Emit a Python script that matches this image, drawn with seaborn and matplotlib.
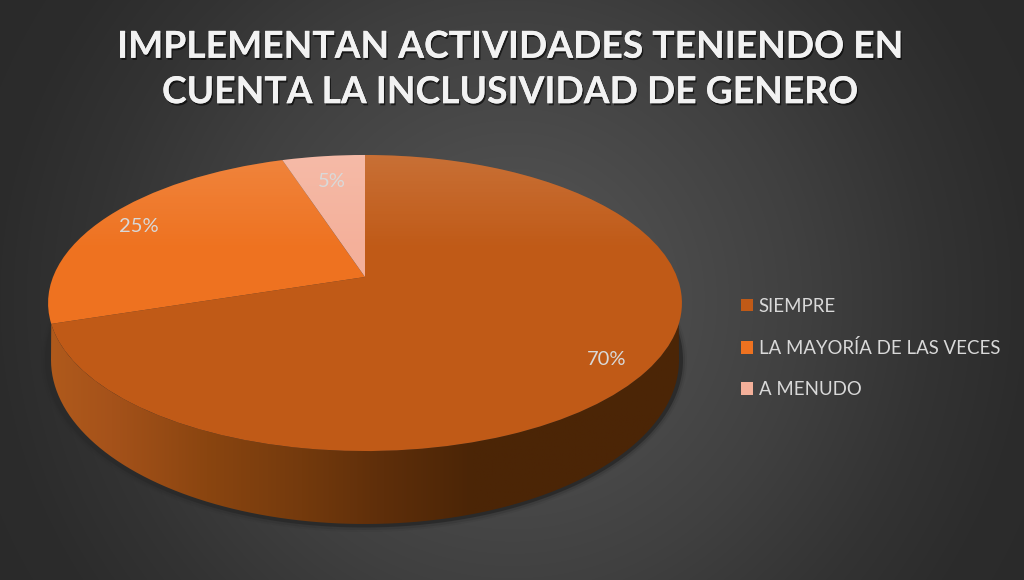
import matplotlib
matplotlib.use('Agg')
import matplotlib.pyplot as plt
import matplotlib.patheffects as pe
import numpy as np
import seaborn as sns
from matplotlib.colors import LinearSegmentedColormap
from matplotlib.path import Path
from matplotlib.transforms import Affine2D, Transform

title = 'IMPLEMENTAN ACTIVIDADES TENIENDO EN\nCUENTA LA INCLUSIVIDAD DE GENERO'
labels = ['SIEMPRE', 'LA MAYORÍA DE LAS VECES', 'A MENUDO']
values = [70, 25, 5]
colors = ['#C05A17', '#EE7220', '#F4B09A']
text_color = '#D9D9D9'

sns.set_theme(style='dark')
plt.rcParams['font.family'] = ['Lato', 'DejaVu Sans']


# the 3d look of the pie: unit circle -> tilted disc, in image pixels
def project(x, y):
    w = 1 + 0.1757 * y
    return 365 + 312 * x / w, 580 - (196.7 * y + 303) / w


class Tilt(Transform):
    input_dims = 2
    output_dims = 2

    def transform_non_affine(self, xy):
        xy = np.asarray(xy, dtype=float)
        px, py = project(xy[:, 0], xy[:, 1])
        return np.column_stack([px, py])


fig = plt.figure(figsize=(10.24, 5.8), dpi=100)
ax = fig.add_axes([0, 0, 1, 1])

wedges, _, autotexts = ax.pie(values, colors=sns.color_palette(colors), startangle=90,
                              counterclock=False, autopct='%.0f%%', pctdistance=0.87,
                              textprops={'color': text_color, 'fontsize': 14.5})
ax.set_aspect('auto')
ax.set_xlim(0, 1024)
ax.set_ylim(580, 0)
ax.set_autoscale_on(False)
ax.axis('off')

top = Tilt()
for w in wedges:
    w.set_transform(top + ax.transData)
    w.set_zorder(4)
    w.set_edgecolor('none')
# small slice label sits a bit closer to the middle
px5, py5 = autotexts[2].get_position()
autotexts[2].set_position((px5 * 0.9, py5 * 0.9))
for t in autotexts:
    t.set_transform(top + ax.transData + Affine2D().translate(0, -2))
    t.set_zorder(6)

# background glow
yy, xx = np.mgrid[0:580, 0:1024]
dist = np.sqrt((xx - 512) ** 2 + (yy - 300) ** 2)
grey = np.interp(dist, [0, 180, 290, 420, 512, 640], [0x58, 0x49, 0x40, 0x33, 0x2C, 0x29]) / 255
ax.imshow(np.dstack([grey, grey, grey]), extent=(0, 1024, 580, 0), aspect='auto', zorder=0)

t = np.linspace(0, 2 * np.pi, 400)
# soft shadow under the disc
for rx, ry, alpha in [(323, 172, 0.12), (321, 170, 0.25), (319, 167.5, 0.95)]:
    ax.fill(364 + rx * np.cos(t), 360 - ry * np.sin(t), color='#2A2A2A', alpha=alpha, lw=0, zorder=1)

# side wall, the bottom disc is a bit narrower than the top face
arc_low = np.radians(np.linspace(180, 360, 200))
arc_top = np.radians(np.linspace(198, 342, 200))
x0, y0 = project(np.cos(arc_top), np.sin(arc_top))
x1 = 365 + 314 * np.cos(arc_low)
y1 = 360 - 164 * np.sin(arc_low)
wall = Path(np.column_stack([np.r_[x1, x0[::-1]], np.r_[y1, y0[::-1]]]), closed=False)
wall_cmap = LinearSegmentedColormap.from_list(
    'wall', [(0, '#B05A1C'), (0.1, '#A5521A'), (0.25, '#8A4510'), (0.40, '#743A0D'),
             (0.53, '#5E2E0A'), (0.67, '#4B2506'), (1, '#4C2506')])
im = ax.imshow(np.linspace(0, 1, 256)[None, :], extent=(48, 682, 540, 290), cmap=wall_cmap,
               aspect='auto', zorder=2)
im.set_clip_path(wall, transform=ax.transData)

# light on the far part of the top face
x2, y2 = project(np.cos(t), np.sin(t))
face = Path(np.column_stack([x2, y2]), closed=False)
light = np.ones((200, 1, 4))
light[:, 0, 3] = np.interp(np.linspace(150, 460, 200), [150, 250, 460], [0.14, 0.0, 0.0])
im2 = ax.imshow(light, extent=(40, 690, 460, 150), aspect='auto', zorder=5)
im2.set_clip_path(face, transform=ax.transData)

ax.text(510, 70, title, color='#F2F2F2', fontsize=26.8, fontweight='bold', ha='center',
        va='center', linespacing=1.46, zorder=7,
        path_effects=[pe.withSimplePatchShadow(offset=(1, -1.5), shadow_rgbFace='black', alpha=0.6),
                      pe.Normal()])

leg = ax.legend(wedges, labels, loc='center left', bbox_to_anchor=(0.7236, 0.400), frameon=False,
                fontsize=13.4, labelcolor=text_color, handlelength=0.65, handleheight=0.65,
                handletextpad=0.3, labelspacing=1.3, borderpad=0, borderaxespad=0)
leg.set_zorder(8)

fig.savefig('out.png', dpi=100)
